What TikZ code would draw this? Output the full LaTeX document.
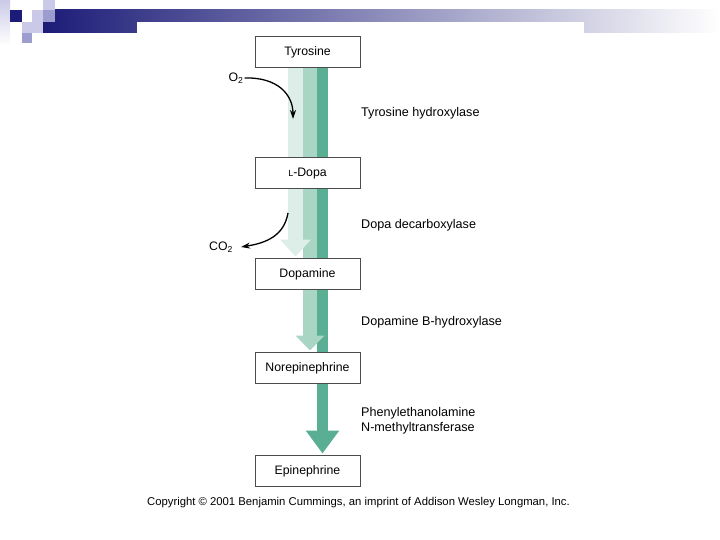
\documentclass[tikz,border=0pt]{standalone}
\usepackage{fontspec}
\setmainfont{Liberation Sans}
\usetikzlibrary{positioning, arrows.meta, backgrounds}

\definecolor{darkteal}{HTML}{5AAE94}
\definecolor{midteal}{HTML}{A8D5C4}
\definecolor{paleteal}{HTML}{DCEEE7}
\definecolor{navy}{HTML}{1C1C78}
\definecolor{midlav}{HTML}{9C9CCE}
\definecolor{palelav}{HTML}{CACAE8}

\tikzset{
	compound/.style={draw=black!70, line width=0.9pt, fill=white, minimum width=105pt, minimum height=31pt, inner sep=0pt, text height=9pt, text depth=1pt, font=\fontsize{12.3}{14}\selectfont},
	enzyme/.style={anchor=west, align=left, inner sep=0pt, font=\fontsize{12.6}{14.5}\selectfont},
	gas/.style={inner sep=1pt, font=\fontsize{12.3}{14}\selectfont},
	sidearrow/.style={line width=1.3pt, -{Stealth[length=9pt, width=6pt]}}
}

\begin{document}
\begin{tikzpicture}[x=1pt, y=-1pt]
	\useasboundingbox (0, 0) rectangle (720, 540);
	
	% slide decoration
	\shade[left color=navy, right color=white] (43, 10) rectangle (720, 33);
	\fill[white] (137, 22) rectangle (584, 33);
	\shade[top color=palelav, bottom color=white] (0, 0) rectangle (10, 45);
	\fill[navy] (10, 10) rectangle (22, 22);
	\fill[palelav] (43, 0) rectangle (55, 10);
	\fill[palelav] (32, 10) rectangle (43, 22);
	\fill[midlav] (43, 10) rectangle (55, 22);
	\fill[palelav] (22, 22) rectangle (43, 33);
	\fill[midlav] (22, 33) rectangle (32, 43);
	
	\node[compound] (tyr) at (307.5, 51.5) {Tyrosine};
	\node[compound] (dopa) at (307.5, 173) {{\fontsize{9}{10}\selectfont L}-Dopa};
	\node[compound] (dopamine) at (307.5, 273.5) {Dopamine};
	\node[compound] (norepi) at (307.5, 367.5) {Norepinephrine};
	\node[compound] (epi) at (307.5, 470.5) {Epinephrine};
	
	\node[enzyme] (th) at (361, 113.5) {Tyrosine hydroxylase};
	\node[enzyme] (ddc) at (361, 225.5) {Dopa decarboxylase};
	\node[enzyme] (dbh) at (361, 322.5) {Dopamine B-hydroxylase};
	\node[enzyme] (pnmt) at (361, 420.5) {Phenylethanolamine\\N-methyltransferase};
	
	\begin{scope}[on background layer]
		\foreach \dx/\shaft/\hw/\hl/\col/\target in {15/11/32/23/darkteal/epi, 2.5/14/28/15/midteal/norepi, -12/15/30/17/paleteal/dopamine} {
			\draw[\col, line width=\shaft pt, -{Triangle[width=\hw pt, length=\hl pt]}] ([xshift=\dx pt]tyr.south) -- ([xshift=\dx pt, yshift=1pt]\target.north);
		};
	\end{scope}
	
	\node[gas] (o2) at (236, 78) {O\textsubscript{2}};
	\coordinate (o2tip) at (293, 119);
	\draw[sidearrow] (o2.east) .. controls (278, 77) and (293, 95) .. (o2tip);
	
	\node[gas] (co2) at (221, 247) {CO\textsubscript{2}};
	\coordinate (co2start) at (288, 213);
	\draw[sidearrow] (co2start) .. controls (284, 236) and (266, 243) .. ([xshift=7pt]co2.east);
	
	\node[font=\fontsize{11.3}{13}\selectfont] (copy) at (358.5, 502.5) {Copyright \textcopyright{} 2001 Benjamin Cummings, an imprint of Addison Wesley Longman, Inc.};
\end{tikzpicture}
\end{document}
